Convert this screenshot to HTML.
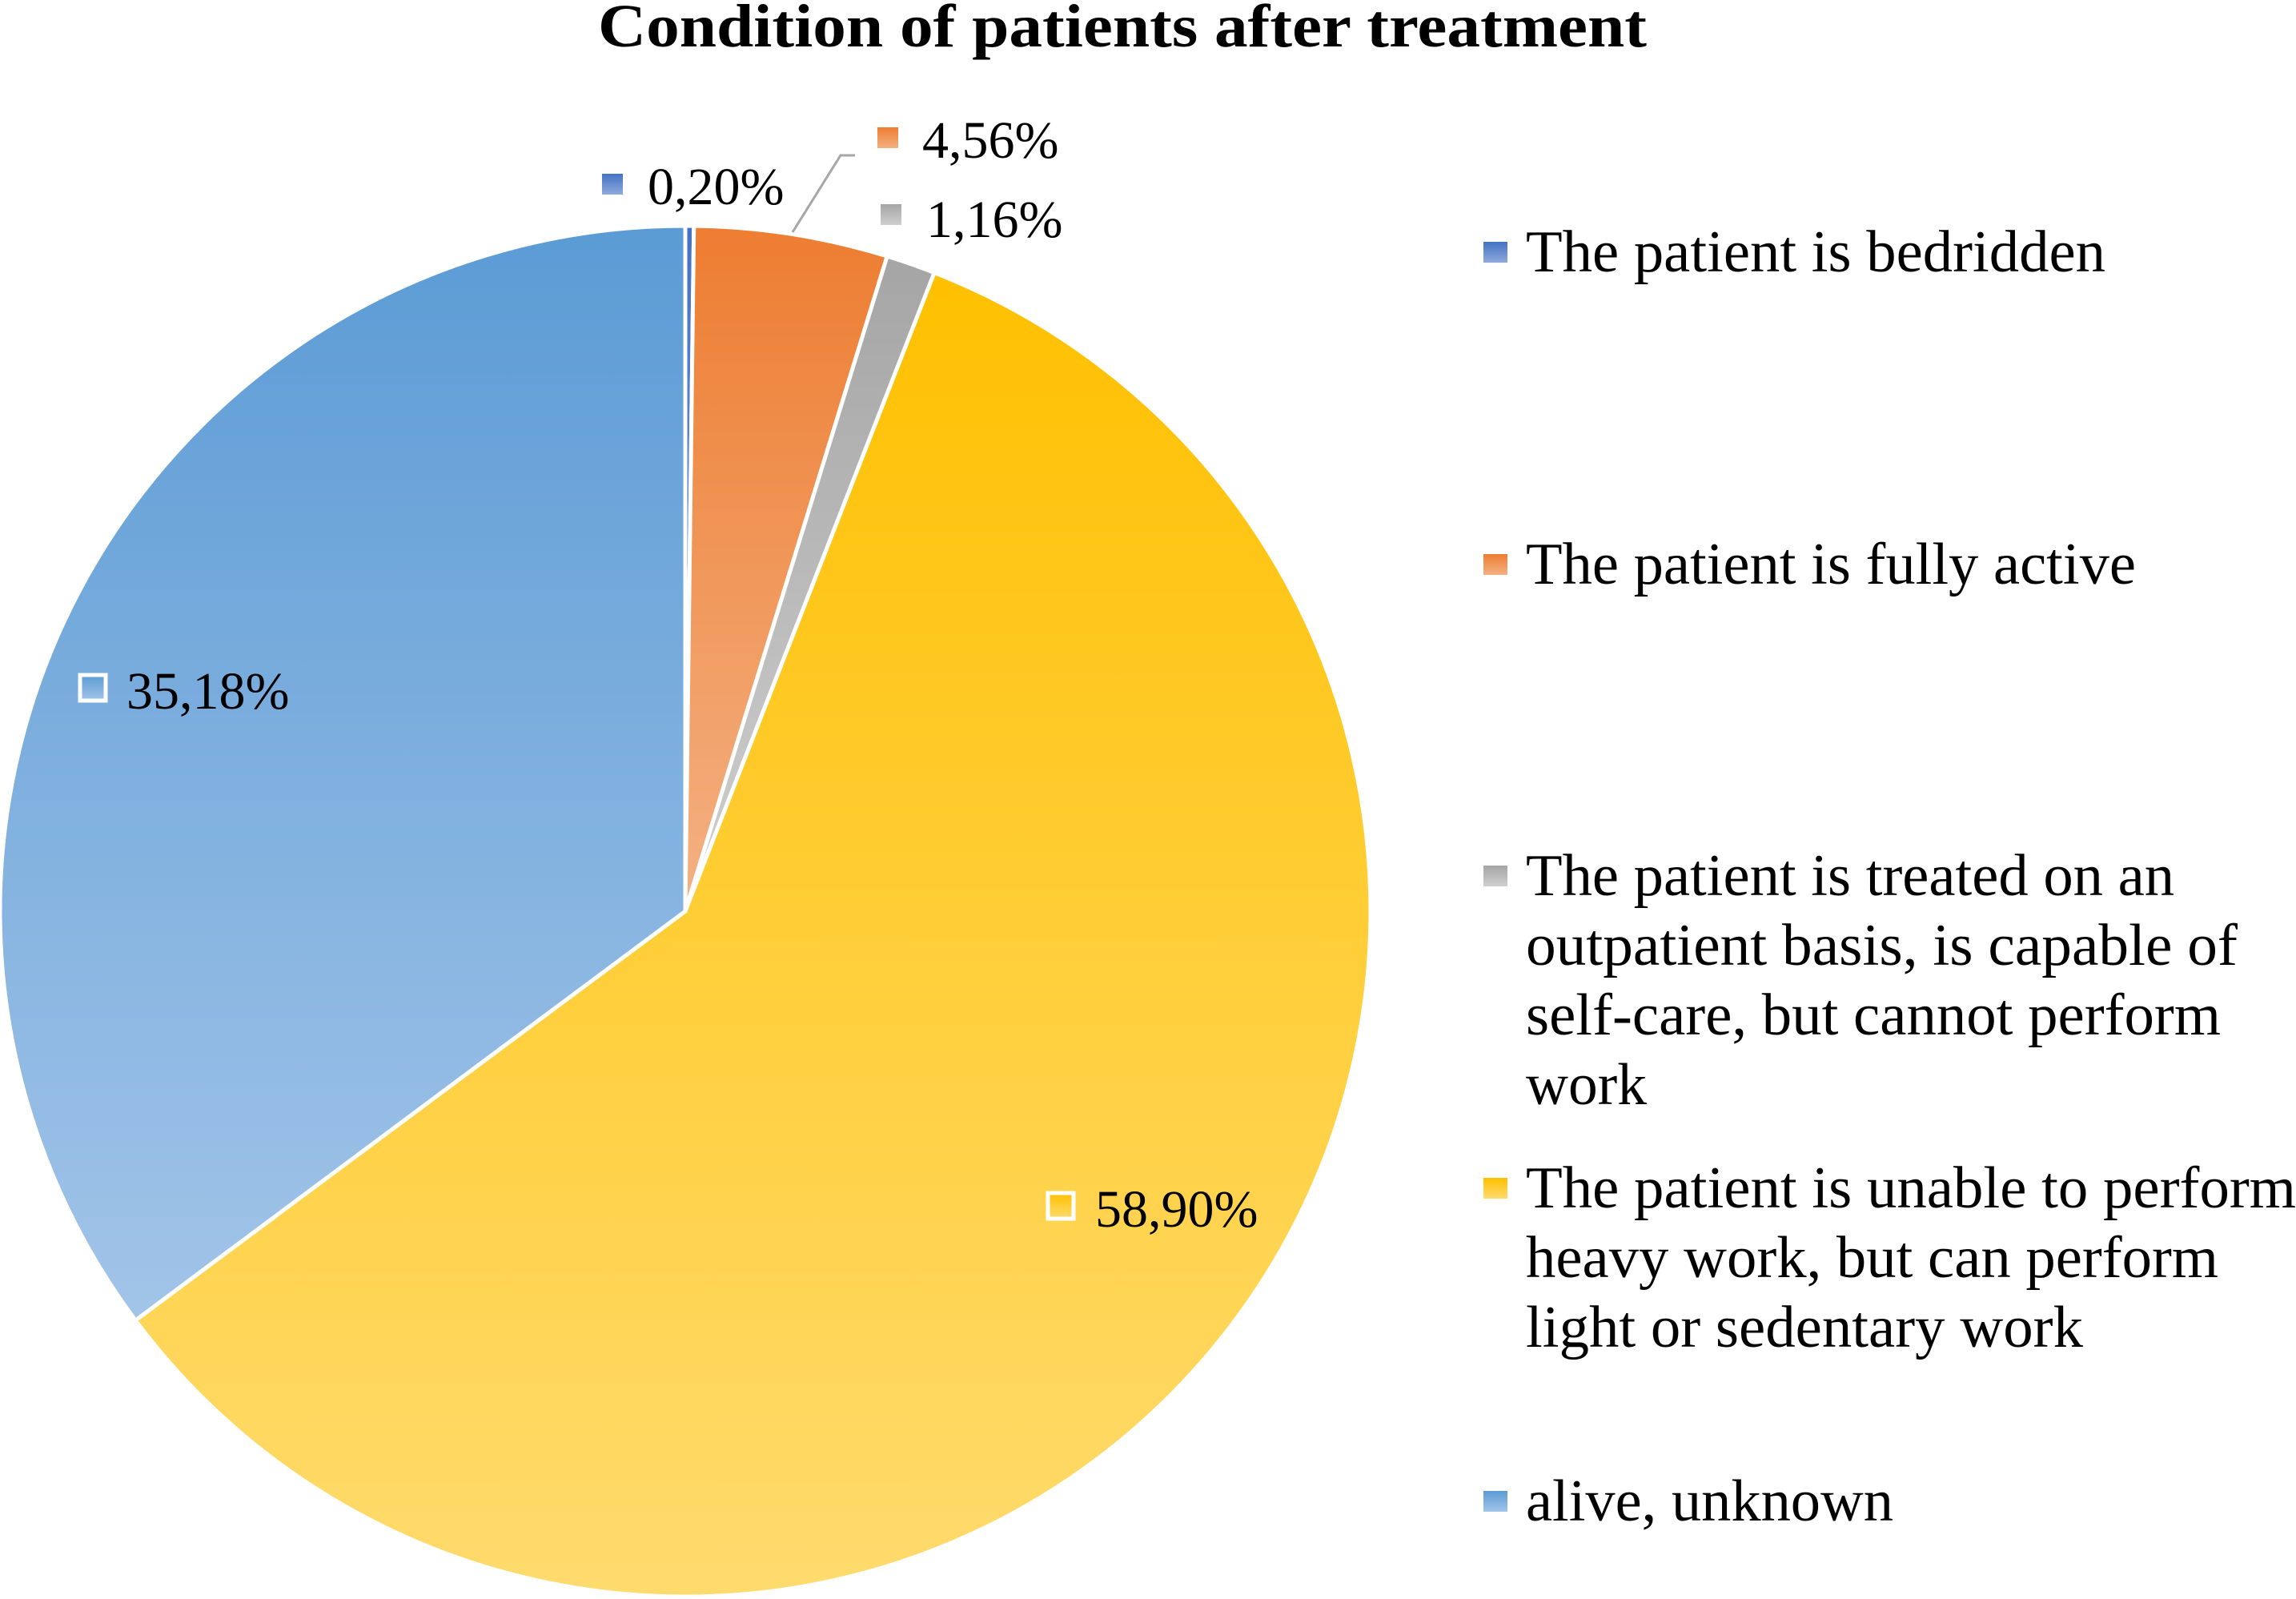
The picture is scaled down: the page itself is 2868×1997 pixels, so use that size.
<!DOCTYPE html>
<html><head><meta charset="utf-8"><style>
html,body{margin:0;padding:0;background:#fff;}
svg{display:block;}
text{font-family:"Liberation Serif",serif;fill:#000;}
</style></head><body>
<svg id="chart" width="2868" height="1997" viewBox="0 0 2868 1997" xmlns="http://www.w3.org/2000/svg">
<defs>
<linearGradient id="g0" x1="0" y1="0" x2="0" y2="1"><stop offset="0" stop-color="#4472c4"/><stop offset="1" stop-color="#8faadc"/></linearGradient>
<linearGradient id="g1" x1="0" y1="0" x2="0" y2="1"><stop offset="0" stop-color="#ed7d31"/><stop offset="1" stop-color="#f4b183"/></linearGradient>
<linearGradient id="g2" x1="0" y1="0" x2="0" y2="1"><stop offset="0" stop-color="#a5a5a5"/><stop offset="1" stop-color="#cfcfcf"/></linearGradient>
<linearGradient id="g3" x1="0" y1="0" x2="0" y2="1"><stop offset="0" stop-color="#ffc000"/><stop offset="1" stop-color="#ffdb6e"/></linearGradient>
<linearGradient id="g4" x1="0" y1="0" x2="0" y2="1"><stop offset="0" stop-color="#5b9bd5"/><stop offset="1" stop-color="#a2c4e8"/></linearGradient>
</defs>
<text x="1402" y="58" text-anchor="middle" font-size="76" font-weight="bold" textLength="1310" lengthAdjust="spacingAndGlyphs">Condition of patients after treatment</text>
<g id="slices"></g>
<polyline points="990,290 1050,194 1068,194" fill="none" stroke="#a6a6a6" stroke-width="3"/>
<g id="labels"></g>
<g id="legend"></g>
</svg>
<script>
const categories = ["The patient is bedridden","The patient is fully active","The patient is treated on an outpatient basis, is capable of self-care, but cannot perform work","The patient is unable to perform heavy work, but can perform light or sedentary work","alive, unknown"];
const values = [0.20, 4.56, 1.16, 58.90, 35.18];
const valueLabels = ["0,20%","4,56%","1,16%","58,90%","35,18%"];
const legendLines = [["The patient is bedridden"],["The patient is fully active"],["The patient is treated on an","outpatient basis, is capable of","self-care, but cannot perform","work"],["The patient is unable to perform","heavy work, but can perform","light or sedentary work"],["alive, unknown"]];

const NS="http://www.w3.org/2000/svg";
const cx=856, cy=1138, r=856;
const fills=["url(#g0)","url(#g1)","url(#g2)","url(#g3)","url(#g4)"];
const total=values.reduce((a,b)=>a+b,0);
function pt(frac){const a=frac*2*Math.PI-Math.PI/2;return [cx+r*Math.cos(a), cy+r*Math.sin(a)];}
const sg=document.getElementById('slices');
let acc=0;
values.forEach((v,i)=>{
  const f0=acc/total, f1=(acc+v)/total; acc+=v;
  const p0=pt(f0), p1=pt(f1);
  const large=(f1-f0)>0.5?1:0;
  const p=document.createElementNS(NS,'path');
  p.setAttribute('d',`M${cx},${cy} L${p0[0]},${p0[1]} A${r},${r} 0 ${large} 1 ${p1[0]},${p1[1]} Z`);
  p.setAttribute('fill',fills[i]);
  p.setAttribute('stroke','#fff');
  p.setAttribute('stroke-width','5');
  
  
  sg.appendChild(p);
});
const labelPos=[[752,217,26,809,255,false],[1096,159,26,1152,197,false],[1100,255,26,1157,296,false],[1309,1490,32,1368,1532,true],[100,843,32,158,885,true]];
const lg=document.getElementById('labels');
valueLabels.forEach((t,i)=>{
  const L=labelPos[i];
  const m=document.createElementNS(NS,'rect');
  m.setAttribute('x',L[0]);m.setAttribute('y',L[1]);m.setAttribute('width',L[2]);m.setAttribute('height',L[2]);
  if(L[5]){m.setAttribute('fill',fills[i]);m.setAttribute('stroke','#fff');m.setAttribute('stroke-width','5');}
  else m.setAttribute('fill',fills[i]);
  
  
  lg.appendChild(m);
  const tx=document.createElementNS(NS,'text');
  tx.setAttribute('x',L[3]);tx.setAttribute('y',L[4]);tx.setAttribute('font-size','66');
  tx.textContent=t;
  
  
  lg.appendChild(tx);
});
const legBase=[339,729,1118,1508,1899];
const lineW={"The patient is bedridden":724,"The patient is fully active":762,"The patient is treated on an":810,"outpatient basis, is capable of":889,"self-care, but cannot perform":868,"work":151,"The patient is unable to perform":962,"heavy work, but can perform":865,"light or sedentary work":696,"alive, unknown":459};
const leg=document.getElementById('legend');
legendLines.forEach((lines,i)=>{
  const g=document.createElementNS(NS,'g');
  
  
  const m=document.createElementNS(NS,'rect');
  m.setAttribute('x',1853);m.setAttribute('y',legBase[i]-37);m.setAttribute('width',30);m.setAttribute('height',26);
  m.setAttribute('fill',fills[i]);
  
  
  g.appendChild(m);
  lines.forEach((ln,j)=>{
    const t=document.createElementNS(NS,'text');
    t.setAttribute('x',1906);t.setAttribute('y',legBase[i]+j*87);t.setAttribute('font-size','74');
    t.setAttribute('textLength',lineW[ln]);t.setAttribute('lengthAdjust','spacingAndGlyphs');
    t.textContent=ln;
    
    
    g.appendChild(t);
  });
  leg.appendChild(g);
});
</script>
</body></html>
